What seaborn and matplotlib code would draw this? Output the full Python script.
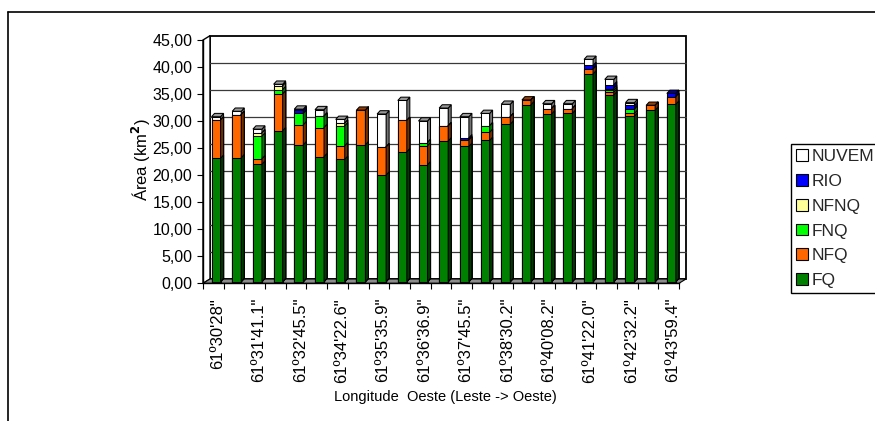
import numpy as np
import matplotlib
matplotlib.use("Agg")
import matplotlib.pyplot as plt
import matplotlib.colors as mcolors
import seaborn as sns
from matplotlib.patches import Polygon, Patch
from matplotlib.lines import Line2D
from matplotlib.transforms import offset_copy

# ---- data (km²) per longitude position, east -> west ----
longitude_labels = ["61º30'28\"", "61º31'41.1\"", "61º32'45.5\"", "61º34'22.6\"",
                    "61º35'35.9\"", "61º36'36.9\"", "61º37'45.5\"", "61º38'30.2\"",
                    "61º40'08.2\"", "61º41'22.0\"", "61º42'32.2\"", "61º43'59.4\""]
fq = [22.8, 22.9, 21.7, 27.9, 25.3, 23.1, 22.6, 25.3, 19.7, 24.0, 21.6, 26.0,
      25.0, 26.1, 29.1, 32.7, 31.0, 31.1, 38.4, 34.5, 30.6, 31.7, 32.8]
nfq = [7.1, 8.0, 1.0, 6.8, 3.7, 5.4, 2.5, 6.4, 5.2, 5.8, 3.5, 2.8,
       1.2, 1.5, 1.4, 0.9, 1.0, 0.9, 0.9, 0.5, 0.5, 0.9, 1.4]
fnq = [0, 0, 4.2, 0.8, 2.1, 2.1, 3.7, 0, 0, 0, 0.6, 0,
       0, 1.2, 0, 0, 0, 0, 0, 0.4, 0.8, 0, 0]
nfnq = [0, 0, 0.6, 0.7, 0, 0, 0.5, 0, 0, 0, 0, 0,
        0, 0, 0, 0, 0, 0, 0, 0.3, 0, 0, 0]
rio = [0, 0, 0, 0, 0.6, 0, 0, 0, 0, 0, 0, 0,
       0.4, 0, 0, 0, 0, 0, 0.7, 0.7, 0.7, 0, 0.6]
nuvem = [0.6, 0.6, 0.7, 0.3, 0.2, 1.2, 0.7, 0, 6.1, 3.7, 4.0, 3.3,
         3.9, 2.3, 2.3, 0, 0.9, 0.9, 1.1, 1.0, 0.5, 0, 0]

series_names = ["FQ", "NFQ", "FNQ", "NFNQ", "RIO", "NUVEM"]
series_colors = ["#008000", "#FF6600", "#00FF00", "#FFFF99", "#0000FF", "#FFFFFF"]

sns.set_theme(style="ticks")
plt.rcParams["font.family"] = ["Liberation Sans", "DejaVu Sans"]

W, H = 875, 421
fig = plt.figure(figsize=(W / 100, H / 100), dpi=100)
fig.patch.set_facecolor("white")

# front plane of the 3-D box, in pixels
px_left, px_right = 203, 679
px_bottom, px_top = 283.3, 40
ax = fig.add_axes([px_left / W, 1 - px_bottom / H,
                   (px_right - px_left) / W, (px_bottom - px_top) / H])

stack = np.array([fq, nfq, fnq, nfnq, rio, nuvem])
cum = np.cumsum(stack, axis=0)
n = stack.shape[1]
idx = np.arange(n)
ymax = 45

sx = n / (px_right - px_left)       # data units per pixel (x)
sy = ymax / (px_bottom - px_top)    # data units per pixel (y)

# depth offsets (pixels)
wall_dx, wall_dy = 7, 4.3
bar_dx, bar_dy = 2.7, 1.7
face_dx, face_dy = 3.0, 3.3

wall_tr = offset_copy(ax.transData, fig=fig, x=wall_dx, y=wall_dy, units="dots")
bar_tr = offset_copy(ax.transData, fig=fig, x=bar_dx, y=bar_dy, units="dots")


def shade(color, f):
    r, g, b = mcolors.to_rgb(color)
    return (r * f, g * f, b * f)


edge_lw = 0.75
top_series = [max([k for k in range(stack.shape[0]) if stack[k, i] > 0]) for i in range(n)]

for k in range(stack.shape[0] - 1, -1, -1):
    before = len(ax.patches)
    sns.barplot(x=idx, y=cum[k], color=series_colors[k], saturation=1,
                width=0.435, edgecolor="black", linewidth=edge_lw,
                errorbar=None, ax=ax)
    new = ax.patches[before:]
    sides = []
    for i, p in enumerate(new):
        p.set_transform(bar_tr)
        p.set_clip_on(False)
        bx, w, h = p.get_x(), p.get_width(), p.get_height()
        r = bx + w
        ddx, ddy = face_dx * sx, face_dy * sy
        side = Polygon([(r, 0), (r + ddx, ddy), (r + ddx, h + ddy), (r, h)],
                       closed=True, facecolor=shade(series_colors[k], 0.45),
                       edgecolor="black", linewidth=edge_lw,
                       transform=bar_tr, clip_on=False)
        sides.append(side)
        if k == stack.shape[0] - 1:
            top_col = series_colors[top_series[i]]
            top = Polygon([(bx, h), (bx + ddx, h + ddy), (r + ddx, h + ddy), (r, h)],
                          closed=True, facecolor=shade(top_col, 0.6),
                          edgecolor="black", linewidth=edge_lw,
                          transform=bar_tr, clip_on=False)
            sides.append(top)
    for s in sides:
        ax.add_patch(s)

ax.set_xlim(-0.5, n - 0.5)
ax.set_ylim(0, ymax)

# back wall, left wall, floor
wx, wy = wall_dx * sx, wall_dy * sy
ax.add_patch(Polygon([(-0.5 + wx, wy), (n - 0.5 + wx, wy), (n - 0.5 + wx, ymax + wy),
                      (-0.5 + wx, ymax + wy)], closed=True, facecolor="white",
                     edgecolor="black", linewidth=1.3, zorder=0.1, clip_on=False))
ax.add_patch(Polygon([(-0.5, 0), (-0.5 + wx, wy), (-0.5 + wx, ymax + wy), (-0.5, ymax)],
                     closed=True, facecolor="white", edgecolor="black",
                     linewidth=1.0, zorder=0.2, clip_on=False))
ax.add_patch(Polygon([(-0.5, 0), (n - 0.5, 0), (n - 0.5 + wx, wy), (-0.5 + wx, wy)],
                     closed=True, facecolor="#8c8c8c", edgecolor="black",
                     linewidth=0.8, zorder=0.4, clip_on=False))
for v in range(5, ymax, 5):
    ax.plot([-0.5 + wx, n - 0.5 + wx], [v + wy, v + wy], color="#3a3a3a",
            linewidth=0.9, zorder=0.3, clip_on=False)

for side in ["top", "right"]:
    ax.spines[side].set_visible(False)
for side in ["left", "bottom"]:
    ax.spines[side].set_color("black")
    ax.spines[side].set_linewidth(1.0)

ax.set_facecolor("none")
ax.set_yticks(np.arange(0, ymax + 1, 5))
ax.set_yticklabels([f"{v:.2f}".replace(".", ",") for v in np.arange(0, ymax + 1, 5)])
ax.tick_params(axis="y", direction="out", length=4, width=0.8, color="black",
               pad=3.6, labelsize=11.5, labelcolor="black", left=True)

label_pos = idx[::2] + bar_dx * sx + 0.5 * face_dx * sx
ax.set_xticks(label_pos)
ax.set_xticklabels(longitude_labels, rotation=90)
ax.set_xticks(np.arange(-0.5, n, 1.0), minor=True)
ax.tick_params(axis="x", which="major", length=0, pad=10.5, labelsize=12,
               labelcolor="black", bottom=True)
ax.tick_params(axis="x", which="minor", direction="out", length=4, width=0.8,
               color="black", bottom=True)
ax.set_xlabel("")
ax.set_ylabel("")

fig.text(141 / W, 1 - 160 / H, "Área (km$^\\mathbf{2}$)", rotation=90, ha="center",
         va="center", fontsize=12, color="black")
fig.text(445 / W, 1 - 397 / H, "Longitude  Oeste (Leste -> Oeste)", ha="center",
         va="center", fontsize=10.5, color="black")

# legend, top series listed first
handles = [Patch(facecolor=series_colors[k], edgecolor="black", linewidth=0.8)
           for k in range(len(series_names) - 1, -1, -1)]
labels = series_names[::-1]
leg = fig.legend(handles, labels, loc="upper left",
                 bbox_to_anchor=(791 / W, 1 - 144 / H), frameon=True, fancybox=False,
                 edgecolor="black", framealpha=1, fontsize=12.5, handlelength=0.68,
                 handleheight=0.68, handletextpad=0.2, borderpad=0.3,
                 labelspacing=0.56, borderaxespad=0)
leg.get_frame().set_linewidth(1.0)

# chart border (top and left edges visible)
fig.add_artist(Line2D([8 / W, 1.02], [1 - 12 / H, 1 - 12 / H], color="black",
                      linewidth=1.2, transform=fig.transFigure))
fig.add_artist(Line2D([8 / W, 8 / W], [-0.02, 1 - 12 / H], color="black",
                      linewidth=1.2, transform=fig.transFigure))

fig.savefig("out.png", dpi=100, facecolor="white")
